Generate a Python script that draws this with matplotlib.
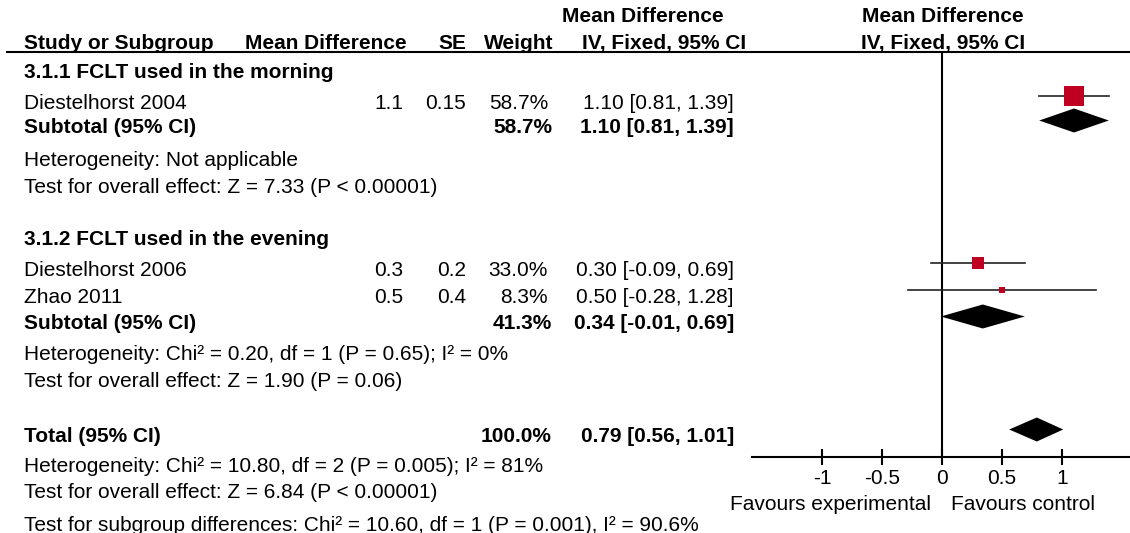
import numpy as np
import matplotlib.pyplot as plt
from matplotlib.patches import Polygon

plt.rcParams['font.family'] = ['Liberation Sans', 'DejaVu Sans']
FS = 15
RED = '#C00020'

# study level data
studies = ["Diestelhorst 2004", "Diestelhorst 2006", "Zhao 2011"]
md = [1.1, 0.3, 0.5]
se = [0.15, 0.2, 0.4]
weight = [58.7, 33.0, 8.3]
ci_low = [0.81, -0.09, -0.28]
ci_high = [1.39, 0.69, 1.28]

# pooled estimates: subgroup 1, subgroup 2, total
pooled_est = [1.10, 0.34, 0.79]
pooled_low = [0.81, -0.01, 0.56]
pooled_high = [1.39, 0.69, 1.01]
pooled_weight = [58.7, 41.3, 100.0]

ticks = [-1, -0.5, 0, 0.5, 1]
tick_labels = ["-1", "-0.5", "0", "0.5", "1"]

# baselines of the text rows (pixels from top)
study_rows = [109, 276, 303]
pooled_rows = [133, 329, 442]

fig = plt.figure(figsize=(11.3, 5.33), dpi=100)
ax = fig.add_axes([0, 0, 1, 1])
ax.set_xlim(0, 1130)
ax.set_ylim(533, 0)
ax.axis('off')


def txt(x, y, s, ha='left', bold=False):
    ax.text(x, y, s, ha=ha, va='baseline', fontsize=FS,
            fontweight='bold' if bold else 'normal', color='black')


# headers
txt(643, 22, "Mean Difference", ha='center', bold=True)
txt(943, 22, "Mean Difference", ha='center', bold=True)
txt(24, 49, "Study or Subgroup", bold=True)
txt(407, 49, "Mean Difference", ha='right', bold=True)
txt(466, 49, "SE", ha='right', bold=True)
txt(553, 49, "Weight", ha='right', bold=True)
txt(746, 49, "IV, Fixed, 95% CI", ha='right', bold=True)
txt(943, 49, "IV, Fixed, 95% CI", ha='center', bold=True)
ax.plot([7, 1130], [52, 52], color='black', lw=1.5)

# subgroup titles
txt(24, 78, "3.1.1 FCLT used in the morning", bold=True)
txt(24, 245, "3.1.2 FCLT used in the evening", bold=True)

for i, name in enumerate(studies):
    y = study_rows[i]
    txt(24, y, name)
    txt(403, y, f"{md[i]:g}", ha='right')
    txt(466, y, f"{se[i]:g}", ha='right')
    txt(548, y, f"{weight[i]:.1f}%", ha='right')
    txt(734, y, f"{md[i]:.2f} [{ci_low[i]:.2f}, {ci_high[i]:.2f}]", ha='right')

pooled_names = ["Subtotal (95% CI)", "Subtotal (95% CI)", "Total (95% CI)"]
for i, name in enumerate(pooled_names):
    y = pooled_rows[i]
    txt(24, y, name, bold=True)
    txt(552, y, f"{pooled_weight[i]:.1f}%", ha='right', bold=True)
    txt(734, y, f"{pooled_est[i]:.2f} [{pooled_low[i]:.2f}, {pooled_high[i]:.2f}]",
        ha='right', bold=True)

txt(24, 166, "Heterogeneity: Not applicable")
txt(24, 193, "Test for overall effect: Z = 7.33 (P < 0.00001)")
txt(24, 360, "Heterogeneity: Chi² = 0.20, df = 1 (P = 0.65); I² = 0%")
txt(24, 387, "Test for overall effect: Z = 1.90 (P = 0.06)")
txt(24, 472, "Heterogeneity: Chi² = 10.80, df = 2 (P = 0.005); I² = 81%")
txt(24, 498, "Test for overall effect: Z = 6.84 (P < 0.00001)")
txt(24, 531, "Test for subgroup differences: Chi² = 10.60, df = 1 (P = 0.001), I² = 90.6%")

# forest panel
fa = fig.add_axes([752 / 1130, (533 - 457) / 533, 1 - 752 / 1130, (457 - 52) / 533])
fa.set_xlim((752 - 942) / 120, (1130 - 942) / 120)
fa.set_ylim(457, 52)
fa.patch.set_visible(False)
for s in ['top', 'right', 'left']:
    fa.spines[s].set_visible(False)
fa.spines['bottom'].set_linewidth(1.5)
fa.set_yticks([])
fa.set_xticks(ticks)
fa.set_xticklabels(tick_labels, fontsize=FS)
fa.tick_params(axis='x', direction='inout', length=12, width=1.5, pad=3)
fa.axvline(0, color='black', lw=1.5)

for i in range(len(studies)):
    y = study_rows[i] - 13
    fa.plot([ci_low[i], ci_high[i]], [y, y], color='#222222', lw=1.2, zorder=2)
    side = 3.7 + 0.278 * weight[i]
    fa.scatter([md[i]], [y], marker='s', s=(side * 0.72) ** 2, color=RED,
               linewidths=0, zorder=3)

for i in range(len(pooled_est)):
    y = pooled_rows[i] - 12.5
    h = 12
    d = Polygon([[pooled_low[i], y], [pooled_est[i], y - h],
                 [pooled_high[i], y], [pooled_est[i], y + h]],
                closed=True, color='black', lw=0)
    fa.add_patch(d)

txt(830, 510, "Favours experimental", ha='center')
txt(1023, 510, "Favours control", ha='center')

fig.savefig("out.png", dpi=100)
